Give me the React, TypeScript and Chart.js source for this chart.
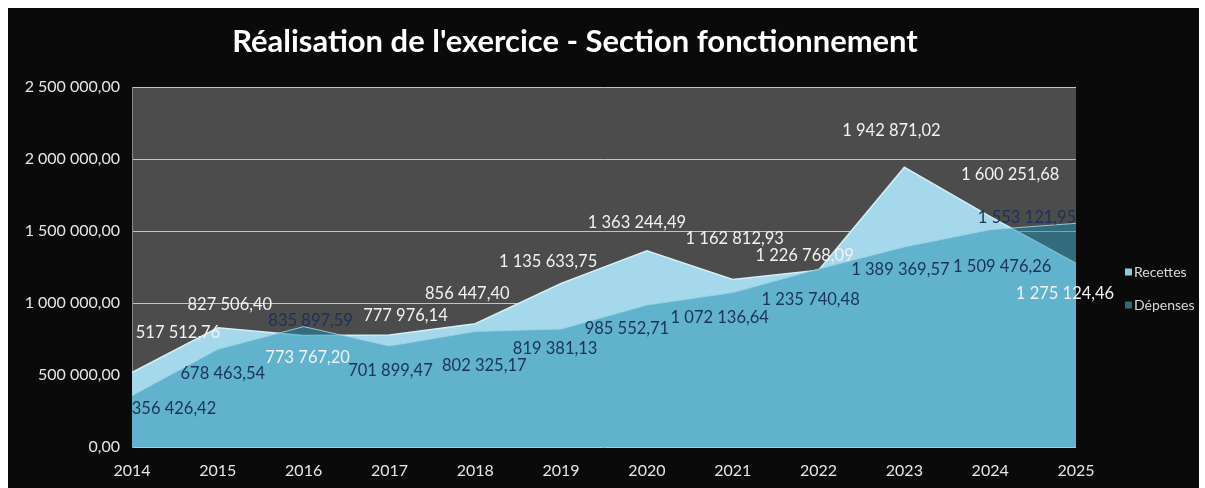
import { useEffect, useRef } from "react";
import { Chart, registerables } from "chart.js";

Chart.register(...registerables);

const years = ["2014", "2015", "2016", "2017", "2018", "2019", "2020", "2021", "2022", "2023", "2024", "2025"];
const recettes = [517512.76, 827506.4, 773767.2, 777976.14, 856447.4, 1135633.75, 1363244.49, 1162812.93, 1226768.09, 1942871.02, 1600251.68, 1275124.46];
const depenses = [356426.42, 678463.54, 835897.59, 701899.47, 802325.17, 819381.13, 985552.71, 1072136.64, 1235740.48, 1389369.57, 1509476.26, 1553121.95];
const yTicks = [0, 500000, 1000000, 1500000, 2000000, 2500000];
const seriesNames = ["Recettes", "Dépenses"];
const title = "Réalisation de l'exercice - Section fonctionnement";

// label placement tweaks (pixel offsets from each point), as in the original
const recettesLabelOffsets = [[46, -40], [12, -23], [4, 22], [16, -19], [-8, -30], [-13, -22], [-10, -28], [2, -41], [-14, -15], [-13, -37], [20, -42], [-11, 30]];
const depensesLabelOffsets = [[42, 13], [5, 24], [7, -6], [1, 25], [9, 34], [-6, 20], [-20, 24], [-13, 25], [-8, 31], [-4, 23], [12, 37], [-49, -6]];

const FONT = "Lato, 'Open Sans', sans-serif";

function fmt(v: number): string {
  const [i, d] = v.toFixed(2).split(".");
  return i.replace(/\B(?=(\d{3})+(?!\d))/g, " ") + "," + d;
}

const decorPlugin = {
  id: "decor",
  beforeDraw(chart: any) {
    const { ctx, chartArea: a, width, height } = chart;
    ctx.save();
    ctx.fillStyle = "#0a0a0a";
    ctx.fillRect(0, 0, width, height);
    ctx.fillStyle = "#4b4c4b";
    ctx.fillRect(a.left, a.top, a.right - a.left, a.bottom - a.top);
    ctx.restore();
  },
  afterDraw(chart: any) {
    const { ctx } = chart;
    ctx.save();
    // title
    ctx.fillStyle = "#ffffff";
    ctx.textAlign = "center";
    ctx.textBaseline = "middle";
    ctx.font = `bold 27px ${FONT}`;
    const w = ctx.measureText(title).width;
    const size = 27 * 686 / w;
    ctx.font = `bold ${size}px ${FONT}`;
    ctx.fillText(title, 567, 34);

    // data labels
    ctx.font = `16.5px ${FONT}`;
    const drawLabels = (di: number, values: number[], offs: number[][], color: string) => {
      const meta = chart.getDatasetMeta(di);
      ctx.fillStyle = color;
      meta.data.forEach((pt: any, i: number) => {
        ctx.fillText(fmt(values[i]), pt.x + offs[i][0], pt.y + offs[i][1]);
      });
    };
    drawLabels(0, recettes, recettesLabelOffsets, "#f2f2f2");
    drawLabels(1, depenses, depensesLabelOffsets, "#1b3358");

    // legend
    const legendColors = ["#86cde0", "#2b6b7a"];
    ctx.font = `14px ${FONT}`;
    ctx.textAlign = "left";
    seriesNames.forEach((name, i) => {
      const y = 264 + i * 33;
      ctx.fillStyle = legendColors[i];
      ctx.fillRect(1117, y - 3.5, 7, 7);
      ctx.fillStyle = "#d9d9d9";
      ctx.fillText(name, 1126, y);
    });
    ctx.restore();
  },
};

export default function App() {
  const ref = useRef<HTMLCanvasElement | null>(null);
  useEffect(() => {
    if (!ref.current) return;
    const chart = new Chart(ref.current, {
      type: "line",
      data: {
        labels: years,
        datasets: [
          {
            label: seriesNames[0],
            data: recettes,
            fill: "origin",
            backgroundColor: "#a6d8eb",
            borderColor: "#d3eff8",
            borderWidth: 1.5,
            pointRadius: 0,
            tension: 0,
            order: 1,
          },
          {
            label: seriesNames[1],
            data: depenses,
            fill: "origin",
            backgroundColor: "rgba(26,140,175,0.5)",
            borderColor: "rgba(150,212,232,0.9)",
            borderWidth: 1,
            pointRadius: 0,
            tension: 0,
            order: 0,
          },
        ],
      },
      options: {
        responsive: false,
        animation: false,
        layout: { padding: { top: 79, right: 123, left: 0, bottom: 0 } },
        plugins: {
          legend: { display: false },
          title: { display: false },
          tooltip: { enabled: false },
        },
        scales: {
          x: {
            offset: false,
            grid: { display: false },
            border: { display: false },
            ticks: { color: "#e6e6e6", font: { family: FONT, size: 16 }, padding: 6, maxRotation: 0 },
            afterFit: (s: any) => { s.height = 41; },
          },
          y: {
            min: 0,
            max: 2500000,
            afterBuildTicks: (s: any) => { s.ticks = yTicks.map((v) => ({ value: v })); },
            ticks: { color: "#e6e6e6", font: { family: FONT, size: 16 }, padding: 12, callback: (v: any) => fmt(Number(v)) },
            grid: { color: "#c4c4c4", lineWidth: 1, drawTicks: false },
            border: { display: true, color: "#8a8a8a" },
            afterFit: (s: any) => { s.width = 124; },
          },
        },
      },
      plugins: [decorPlugin],
    });
    return () => chart.destroy();
  }, []);
  return (
    <div style={{ position: "fixed", left: 8, top: 8, width: 1191, height: 480 }}>
      <canvas ref={ref} width={1191} height={480} style={{ display: "block" }} />
    </div>
  );
}
